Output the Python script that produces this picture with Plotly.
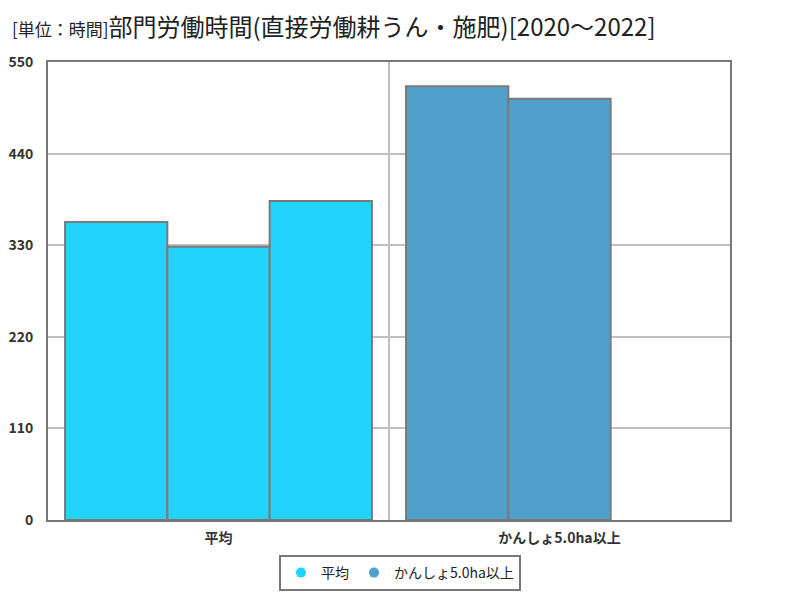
import plotly.graph_objects as go

categories = ["平均", "かんしょ5.0ha以上"]
years = ["2020", "2021", "2022"]
values_2020 = [358, 521]
values_2021 = [328, 506]
values_2022 = [383, None]
category_colors = ["#22D4FB", "#50A0CC"]

series = [values_2020, values_2021, values_2022]

fig = go.Figure()
for yr, vals in zip(years, series):
    fig.add_trace(go.Bar(
        x=categories, y=vals, name=yr, showlegend=False,
        marker=dict(color=category_colors, line=dict(color="#7a7a7a", width=2)),
    ))

for cat, col in zip(categories, category_colors):
    fig.add_trace(go.Scatter(
        x=[None], y=[None], mode="markers", name=cat,
        marker=dict(color=col, size=10, symbol="circle"),
    ))

font_family = "Noto Sans CJK JP"

fig.update_layout(
    width=800, height=600,
    margin=dict(l=48, r=70, t=62, b=80),
    paper_bgcolor="white", plot_bgcolor="white",
    barmode="group", bargap=0.1, bargroupgap=0,
    font=dict(family=font_family, color="#222"),
    title=dict(
        text="<span style='font-size:17px'>[単位：時間]</span>部門労働時間(直接労働耕うん・施肥)[2020～2022]",
        x=0.015, xanchor="left", xref="container",
        y=1 - 28 / 600, yanchor="middle", yref="container",
        font=dict(family=font_family, size=24, color="#222"),
    ),
    legend=dict(
        orientation="h", xref="container", yref="container",
        x=0.5, xanchor="center", y=1 - 573 / 600, yanchor="middle",
        bordercolor="#777", borderwidth=2,
        font=dict(family=font_family, size=14, color="#222"),
        itemwidth=30, tracegroupgap=0,
    ),
    xaxis=dict(
        type="category", tickson="boundaries", showgrid=True, automargin=False,
        gridcolor="#c0c0c0", gridwidth=1.5,
        showline=True, linecolor="#777", linewidth=2, mirror=True,
        ticks="", ticklabelstandoff=4,
        tickfont=dict(family=font_family, size=14, color="#333", weight="bold"),
    ),
    yaxis=dict(
        range=[0, 550], tickvals=[0, 110, 220, 330, 440, 550], automargin=False,
        showgrid=True, gridcolor="#c0c0c0", gridwidth=1.5, zeroline=False,
        showline=True, linecolor="#777", linewidth=2, mirror=True,
        ticks="", ticklabelstandoff=10,
        tickfont=dict(family=font_family, size=14, color="#333", weight="bold"),
    ),
)

fig.write_html("out.html")
